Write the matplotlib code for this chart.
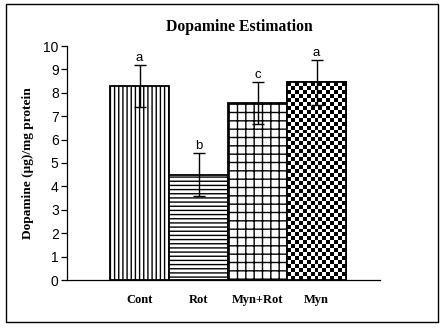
import numpy as np
import matplotlib
matplotlib.use("Agg")
import matplotlib.pyplot as plt
from matplotlib.patches import Rectangle

groups = ["Cont", "Rot", "Myn+Rot", "Myn"]
means = [8.3, 4.5, 7.55, 8.45]
errors = [0.9, 0.93, 0.9, 0.95]
letters = ["a", "b", "c", "a"]
yticks = [0, 1, 2, 3, 4, 5, 6, 7, 8, 9, 10]

fig = plt.figure(figsize=(4.45, 3.28), dpi=100)
fig.patch.set_facecolor("white")
fig.add_artist(Rectangle((6/445, 6/328), 432/445, 318/328, transform=fig.transFigure,
                         fill=False, edgecolor="black", linewidth=1.0))

ax = fig.add_axes([67/445, 48/328, 313/445, 234/328])
x = np.arange(len(groups))
hatches = ["||||", "----", "++", None]
plt.rcParams["hatch.linewidth"] = 1.0
bars = ax.bar(x, means, width=1.0, color="white", edgecolor="black", linewidth=1.3,
              hatch=None, zorder=2)
for b, h in zip(bars, hatches):
    if h:
        b.set_hatch(h)

# checkerboard for the last bar
b = bars[3]
bx, bw, bh = b.get_x(), b.get_width(), b.get_height()
ncols = 15
nrows = int(round(ncols * (bh * 23.4) / (bw * 59)))
cb = (np.indices((nrows, ncols)).sum(axis=0) % 2).astype(float)
im = ax.imshow(cb, cmap="gray", extent=(bx, bx + bw, 0, bh), aspect="auto",
               interpolation="nearest", zorder=2.5)
im.set_clip_path(b)
ax.bar([x[3]], [means[3]], width=1.0, color="none", edgecolor="black", linewidth=1.3, zorder=3)

ax.errorbar(x, means, yerr=errors, fmt="none", ecolor="black", elinewidth=1.0,
            capsize=4.5, capthick=1.0, zorder=4)
for xi, m, e, l in zip(x, means, errors, letters):
    ax.text(xi, m + e + 0.05, l, ha="center", va="bottom", fontsize=9.5,
            family="Liberation Sans")

ax.set_xlim(-0.5 - 43/59, 3.5 + 34/59)
ax.set_ylim(0, 10)
ax.set_yticks(yticks)
ax.set_yticklabels([str(t) for t in yticks], family="Liberation Sans", fontsize=10)
ax.set_xticks(x)
ax.set_xticklabels(groups, family="Liberation Serif", fontweight="bold", fontsize=9)
ax.tick_params(axis="x", length=0, pad=10)
ax.tick_params(axis="y", length=4, width=0.9, direction="out", pad=2)
for s in ["top", "right"]:
    ax.spines[s].set_visible(False)
ax.spines["left"].set_linewidth(0.9)
ax.spines["bottom"].set_linewidth(0.9)
ax.set_ylabel("Dopamine (µg)/mg protein", family="Liberation Serif", fontweight="bold",
              fontsize=9.6, labelpad=7)
fig.text(239/445, 1 - 27/328, "Dopamine Estimation", ha="center", va="center",
         family="Liberation Serif", fontweight="bold", fontsize=11.3)

fig.savefig("out.png", dpi=100)
